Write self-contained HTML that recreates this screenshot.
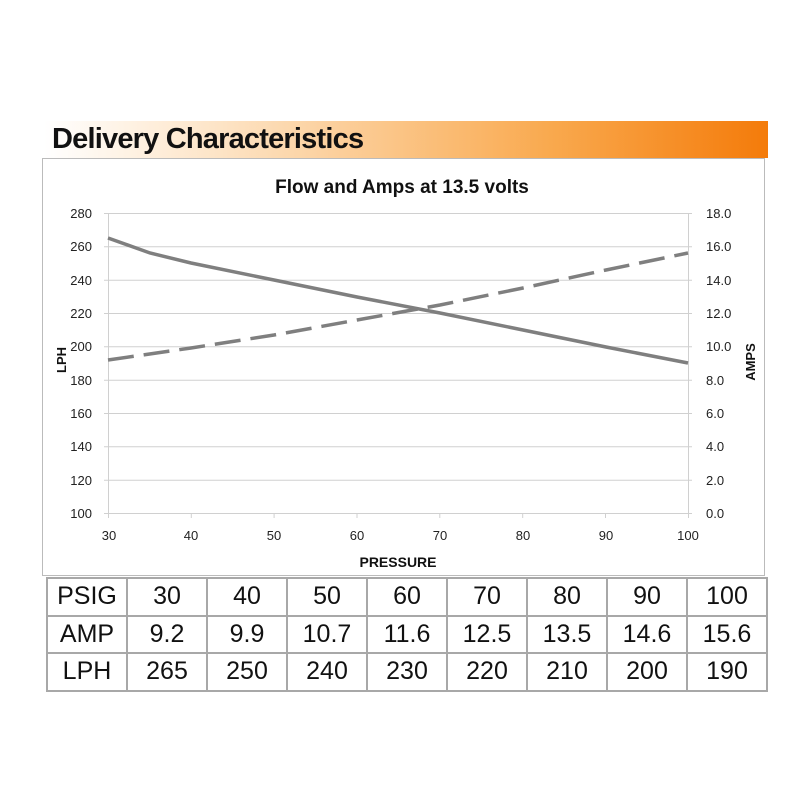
<!DOCTYPE html><html><head><style>body{margin:0;background:#fff;width:800px;height:800px;position:relative;overflow:hidden}
.hd{position:absolute;left:44px;top:121px;width:724px;height:37px;background:linear-gradient(90deg,#fff 0%,#fde3c4 25%,#f9a94e 70%,#f47b0a 100%)}
.hd span{position:absolute;left:8px;top:2px;font:bold 29px "Liberation Sans",sans-serif;color:#111;letter-spacing:-0.8px}
table{position:absolute;left:46px;top:577px;border-collapse:collapse;font:25px "Liberation Sans",sans-serif;color:#111}
td{border:2px solid #a8a8a8;height:35.5px;text-align:center;padding:0;width:78px}
</style></head><body>
<div class="hd"><span>Delivery Characteristics</span></div>
<svg width="800" height="800" style="position:absolute;left:0;top:0" font-family="Liberation Sans, sans-serif">
<rect x="42.5" y="158.5" width="722" height="417" fill="none" stroke="#bbb"/>
<text x="402" y="193" text-anchor="middle" font-size="19" font-weight="bold" fill="#111">Flow and Amps at 13.5 volts</text>
<g stroke="#d0d0d0" stroke-width="1">
<line x1="104" y1="213.5" x2="692" y2="213.5"/><line x1="104" y1="246.8" x2="692" y2="246.8"/><line x1="104" y1="280.2" x2="692" y2="280.2"/><line x1="104" y1="313.5" x2="692" y2="313.5"/><line x1="104" y1="346.8" x2="692" y2="346.8"/><line x1="104" y1="380.2" x2="692" y2="380.2"/><line x1="104" y1="413.5" x2="692" y2="413.5"/><line x1="104" y1="446.8" x2="692" y2="446.8"/><line x1="104" y1="480.2" x2="692" y2="480.2"/><line x1="104" y1="513.5" x2="692" y2="513.5"/>
<line x1="108.5" y1="213" x2="108.5" y2="518"/><line x1="688.5" y1="213" x2="688.5" y2="518"/>
<line x1="191.3" y1="513" x2="191.3" y2="518"/><line x1="274.1" y1="513" x2="274.1" y2="518"/><line x1="357" y1="513" x2="357" y2="518"/><line x1="439.8" y1="513" x2="439.8" y2="518"/><line x1="522.7" y1="513" x2="522.7" y2="518"/><line x1="605.5" y1="513" x2="605.5" y2="518"/>
</g>
<g font-size="13" fill="#222" text-anchor="end">
<text x="92" y="218">280</text><text x="92" y="251">260</text><text x="92" y="285">240</text><text x="92" y="318">220</text><text x="92" y="351">200</text><text x="92" y="385">180</text><text x="92" y="418">160</text><text x="92" y="451">140</text><text x="92" y="485">120</text><text x="92" y="518">100</text>
</g>
<g font-size="13" fill="#222">
<text x="706" y="218">18.0</text><text x="706" y="251">16.0</text><text x="706" y="285">14.0</text><text x="706" y="318">12.0</text><text x="706" y="351">10.0</text><text x="706" y="385">8.0</text><text x="706" y="418">6.0</text><text x="706" y="451">4.0</text><text x="706" y="485">2.0</text><text x="706" y="518">0.0</text>
</g>
<g font-size="13" fill="#222" text-anchor="middle">
<text x="109" y="540">30</text><text x="191" y="540">40</text><text x="274" y="540">50</text><text x="357" y="540">60</text><text x="440" y="540">70</text><text x="523" y="540">80</text><text x="606" y="540">90</text><text x="688" y="540">100</text>
</g>
<text x="398" y="567" text-anchor="middle" font-size="14" font-weight="bold" fill="#111">PRESSURE</text>
<text transform="translate(66,360) rotate(-90)" text-anchor="middle" font-size="13" font-weight="bold" fill="#111">LPH</text>
<text transform="translate(755,362) rotate(-90)" text-anchor="middle" font-size="13" font-weight="bold" fill="#111">AMPS</text>
<polyline fill="none" stroke="#7f7f7f" stroke-width="3.5" points="108,238 150,253 191,263 274,280 357,297 440,313 523,330 606,347 688,363"/>
<polyline fill="none" stroke="#7f7f7f" stroke-width="3.5" stroke-dasharray="26,10" points="108,360 191,348 274,335 357,320 440,305 523,288 606,270 688,253"/>
</svg>
<table>
<tr><td>PSIG</td><td>30</td><td>40</td><td>50</td><td>60</td><td>70</td><td>80</td><td>90</td><td>100</td></tr>
<tr><td>AMP</td><td>9.2</td><td>9.9</td><td>10.7</td><td>11.6</td><td>12.5</td><td>13.5</td><td>14.6</td><td>15.6</td></tr>
<tr><td>LPH</td><td>265</td><td>250</td><td>240</td><td>230</td><td>220</td><td>210</td><td>200</td><td>190</td></tr>
</table>
</body></html>
